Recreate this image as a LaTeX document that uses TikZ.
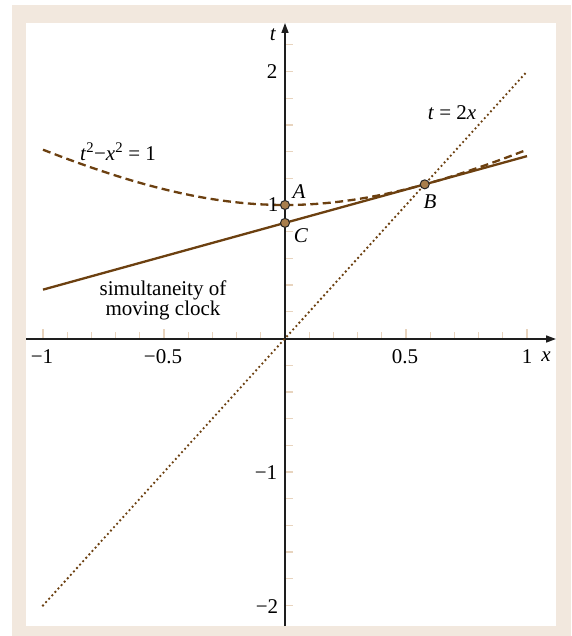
\documentclass[tikz,border=0pt]{standalone}
\usepackage{fontspec}
\setmainfont{Liberation Serif}
\usetikzlibrary{arrows.meta}
\definecolor{beige}{RGB}{242,232,222}
\definecolor{tickc}{RGB}{232,212,190}
\definecolor{brn}{RGB}{108,64,16}
\definecolor{ptfill}{RGB}{168,126,76}
\definecolor{axisc}{RGB}{30,30,30}
\tikzset{
  lbl/.style={inner sep=0pt, font=\fontsize{21}{18}\selectfont},
  axisline/.style={draw=axisc, line width=1.5pt, -{Triangle[length=10pt,width=7pt]}},
  tk/.style={draw=tickc, line width=1.3pt},
  curvesolid/.style={draw=brn, line width=2.3pt},
  curvedash/.style={draw=brn, line width=2.3pt, dash pattern=on 8pt off 4.5pt},
  curvedot/.style={draw=brn, line width=2.6pt, line cap=round, dash pattern=on 0pt off 4.6pt},
  pt/.style={circle, fill=ptfill, draw=black!85, line width=1pt, minimum size=9pt, inner sep=0pt}
}
\begin{document}
\begin{tikzpicture}[x=1pt,y=-1pt]
\useasboundingbox (0,0) rectangle (571,636);
\fill[beige] (12,5) rectangle (571,636);
\fill[white] (26,23) rectangle (556,626);
% ticks
\foreach \i in {-10,...,10}{
  \ifnum\i=0\relax\else
    \pgfmathsetmacro\xx{285+24.2*\i}
    \pgfmathtruncatemacro\m{abs(mod(\i,5))}
    \ifnum\m=0
      \draw[tk] (\xx,339) -- (\xx,329);
    \else
      \draw[tk] (\xx,339) -- (\xx,332);
    \fi
  \fi
}
\foreach \j in {-10,...,11}{
  \ifnum\j=0\relax\else
    \pgfmathsetmacro\yy{338.5-26.7*\j}
    \draw[tk] (285,\yy) -- (293,\yy);
  \fi
}
% axes
\coordinate (xl) at (26,339);
\coordinate (xr) at (556,339);
\coordinate (tb) at (285,626);
\coordinate (tt) at (285,23);
\draw[axisline] (xl) -- (xr);
\draw[axisline] (tb) -- (tt);
% curves in data coordinates
\begin{scope}[shift={(285pt,-338.5pt)}, x=242pt, y=133.5pt]
  \draw[curvedot] (-1,-2) -- (1,2);
  \draw[curvesolid] (-1,0.36603) -- (1,1.36603);
  \draw[curvedash] plot[domain=-1:1, samples=60, smooth] (\x,{sqrt(1+\x*\x)});
  \node[pt] (A) at (0,1) {};
  \node[pt] (C) at (0,0.86603) {};
  \node[pt] (B) at (0.57735,1.1547) {};
\end{scope}
% labels
\node[lbl] (tlab) at (273,35) {\textit{t}};
\node[lbl] (t2) at (272,72) {2};
\node[lbl] (t1) at (273,205) {1};
\node[lbl] (tm1) at (266,473) {−1};
\node[lbl] (tm2) at (267,607) {−2};
\node[lbl] (xm1) at (42,357) {−1};
\node[lbl] (xm05) at (163,357) {−0.5};
\node[lbl] (x05) at (405,357) {0.5};
\node[lbl] (x1) at (527,357) {1};
\node[lbl] (xlab) at (546,357) {\textit{x}};
\node[lbl] (Alab) at (299,192) {\textit{A}};
\node[lbl] (Blab) at (430,202) {\textit{B}};
\node[lbl] (Clab) at (301,236) {\textit{C}};
\node[lbl] (hyp) at (118,152) {\textit{t}\textsuperscript{2}−\textit{x}\textsuperscript{2} = 1};
\node[lbl] (wl) at (452,113) {\textit{t} = 2\textit{x}};
\node[lbl, align=center] (sim) at (163,300) {simultaneity of\\moving clock};
\end{tikzpicture}
\end{document}
